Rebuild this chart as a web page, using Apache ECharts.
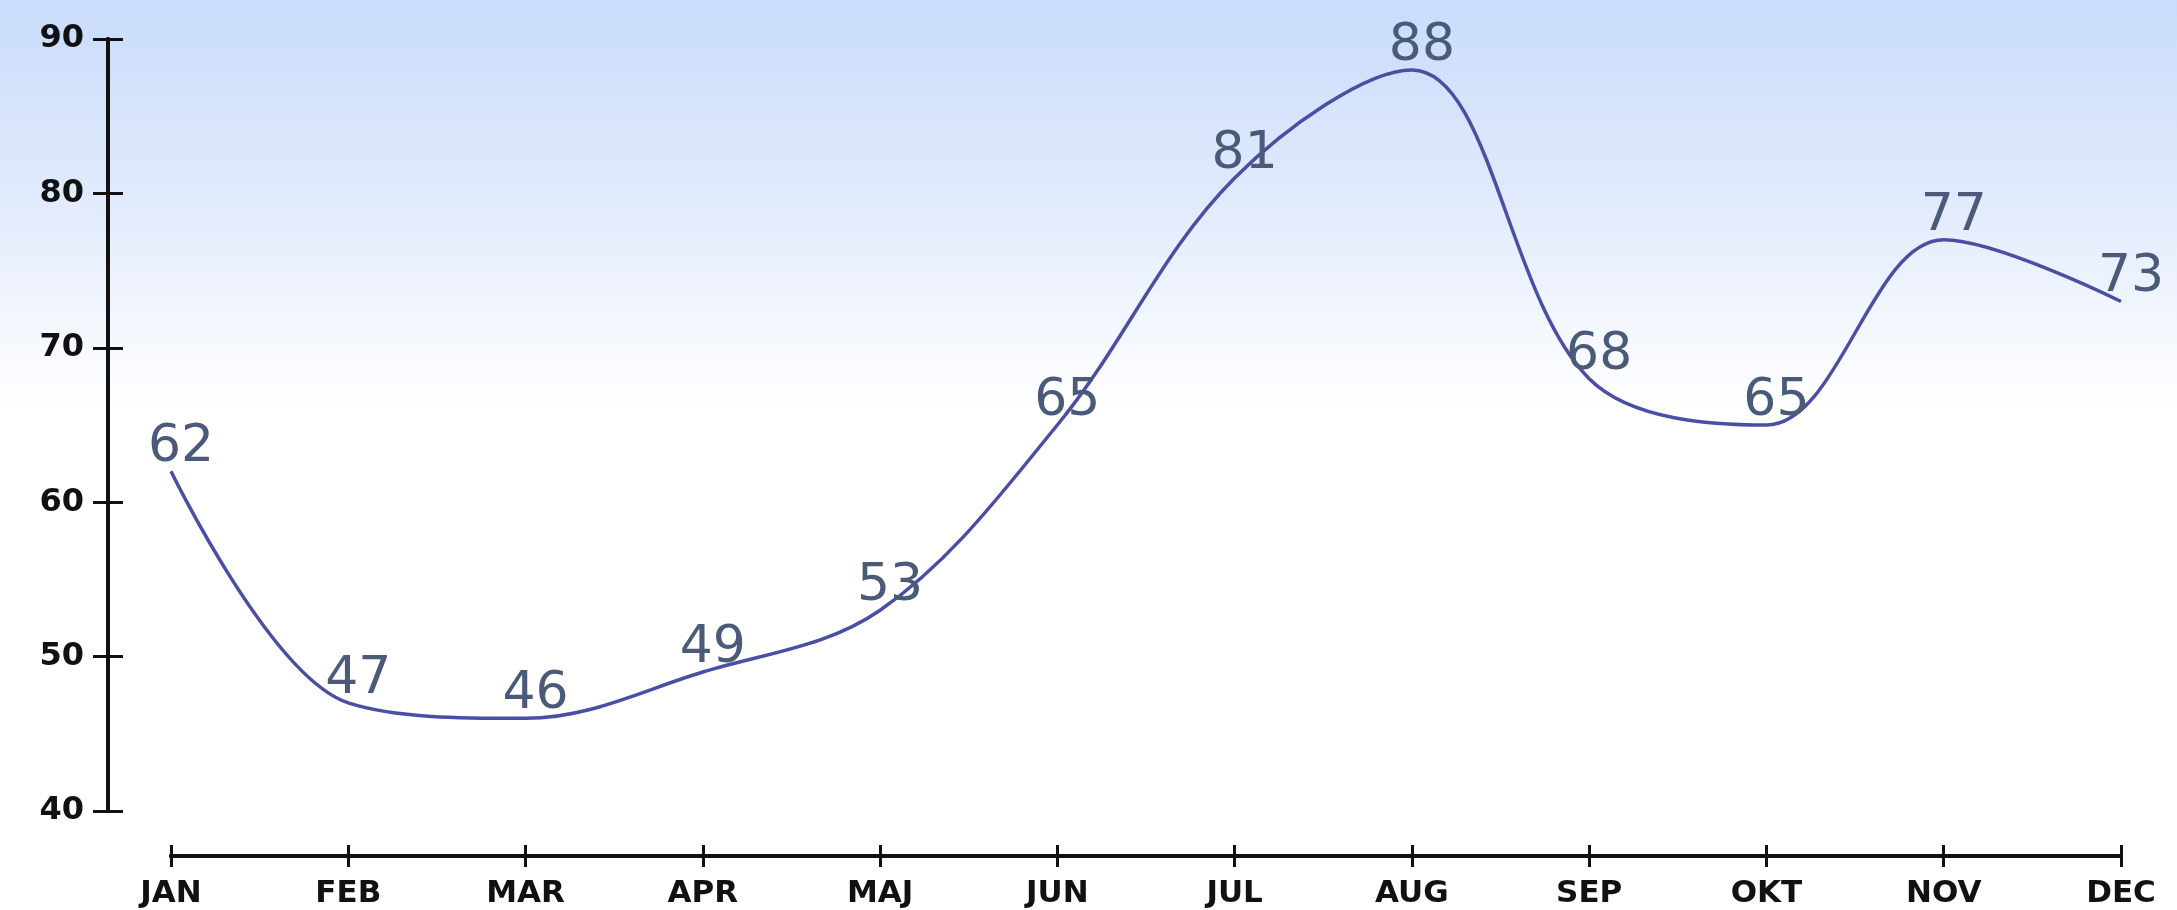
<!DOCTYPE html>
<html>
<head>
<meta charset="utf-8">
<script src="https://cdn.jsdelivr.net/npm/echarts@6/dist/echarts.min.js"></script>
<style>
html,body{margin:0;padding:0;background:#fff;}
#chart{width:2177px;height:910px;}
</style>
</head>
<body>
<div id="chart"></div>
<script>
const months = ['JAN','FEB','MAR','APR','MAJ','JUN','JUL','AUG','SEP','OKT','NOV','DEC'];
const values = [62, 47, 46, 49, 53, 65, 81, 88, 68, 65, 77, 73];
const yMin = 40, yMax = 90, yStep = 10;

const chart = echarts.init(document.getElementById('chart'));
const axisColor = '#111';
const yCommon = {
  type: 'value', min: yMin, max: yMax, interval: yStep,
  position: 'left', offset: 63,
  splitLine: { show: false },
  axisLine: { show: true, lineStyle: { color: axisColor, width: 4 } }
};
const xCommon = {
  type: 'category', data: months, boundaryGap: false,
  position: 'bottom', offset: 45,
  splitLine: { show: false },
  axisLine: { show: true, lineStyle: { color: axisColor, width: 4 } }
};
chart.setOption({
  animation: false,
  backgroundColor: {
    type: 'linear', x: 0, y: 0, x2: 0, y2: 1,
    colorStops: [
      { offset: 0, color: '#c9dcfa' },
      { offset: 0.2, color: '#dfe9fc' },
      { offset: 0.45, color: '#ffffff' },
      { offset: 1, color: '#ffffff' }
    ]
  },
  grid: { left: 171, right: 56, top: 39, bottom: 99, containLabel: false },
  xAxis: [
    Object.assign({}, xCommon, {
      axisTick: { show: true, inside: false, length: 11, alignWithLabel: true, lineStyle: { color: axisColor, width: 3 } },
      axisLabel: { show: true, margin: 22, color: '#111', fontFamily: 'DejaVu Sans', fontWeight: 'bold', fontSize: 31 }
    }),
    Object.assign({}, xCommon, {
      axisTick: { show: true, inside: true, length: 11, lineStyle: { color: axisColor, width: 3 } },
      axisLabel: { show: false }
    })
  ],
  yAxis: [
    Object.assign({}, yCommon, {
      axisTick: { show: true, inside: false, length: 15, lineStyle: { color: axisColor, width: 3 } },
      axisLabel: { show: true, margin: 24, color: '#111', fontFamily: 'DejaVu Sans', fontWeight: 'bold', fontSize: 32 }
    }),
    Object.assign({}, yCommon, {
      axisTick: { show: true, inside: true, length: 15, lineStyle: { color: axisColor, width: 3 } },
      axisLabel: { show: false }
    })
  ],
  series: [{
    type: 'line',
    xAxisIndex: 0, yAxisIndex: 0,
    data: values,
    smooth: 0.35,
    symbol: 'circle', symbolSize: 1,
    itemStyle: { color: 'rgba(0,0,0,0)' },
    lineStyle: { color: '#4a4fa3', width: 3.5 },
    label: {
      show: true, position: 'top', distance: 0, offset: [10, 3],
      color: '#4a5b7a', fontFamily: 'DejaVu Sans', fontSize: 52, fontWeight: 'normal'
    }
  }]
});
</script>
</body>
</html>
